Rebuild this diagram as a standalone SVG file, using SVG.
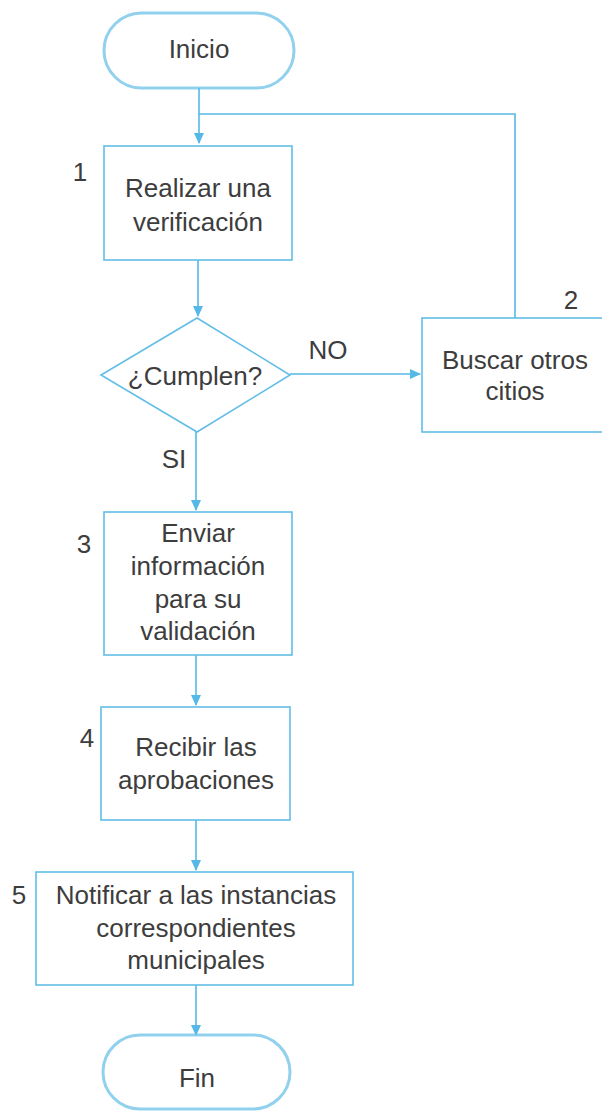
<svg xmlns="http://www.w3.org/2000/svg" width="602" height="1112" viewBox="0 0 602 1112">
<defs>
<marker id="arr" markerWidth="12" markerHeight="12" refX="10" refY="6" orient="auto" markerUnits="userSpaceOnUse">
<path d="M0,1 L11,6 L0,11 Z" fill="#55b8e6"/>
</marker>
<style>
.shape{fill:#ffffff;stroke:#62bde6;stroke-width:1.6;}
.term{fill:#ffffff;stroke:#62bde6;stroke-width:3;stroke-opacity:0.7;}
.edge{fill:none;stroke:#55b8e6;stroke-width:1.6;}
text{font-family:"Liberation Sans",Arial,sans-serif;font-size:26px;fill:#3d3d3d;}
.c{text-anchor:middle;}
</style>
</defs>
<rect width="602" height="1112" fill="#ffffff"/>
<g id="connectors">
<path class="edge" d="M199,88 L199,143" marker-end="url(#arr)"/>
<path class="edge" d="M199,114 L515,114 L515,318"/>
<path class="edge" d="M198,260 L198,316" marker-end="url(#arr)"/>
<path class="edge" d="M290,374 L420,374" marker-end="url(#arr)"/>
<path class="edge" d="M196,432 L196,510" marker-end="url(#arr)"/>
<path class="edge" d="M196,655 L196,705" marker-end="url(#arr)"/>
<path class="edge" d="M196,820 L196,870" marker-end="url(#arr)"/>
<path class="edge" d="M196,985 L196,1035" marker-end="url(#arr)"/>
<text x="328" y="359" class="c">NO</text>
<text x="174" y="468" class="c">SI</text>
</g>
<g id="inicio">
<rect class="term" x="104" y="13" width="190" height="75" rx="37.5"/>
<text x="199" y="58" class="c">Inicio</text>
</g>
<g id="n1">
<rect class="shape" x="104" y="146" width="188" height="114"/>
<text x="80" y="181" class="c">1</text>
<text x="198" y="197" class="c">Realizar una</text>
<text x="198" y="231" class="c">verificación</text>
</g>
<g id="decision">
<polygon class="shape" points="197,318 290,375 197,432 101,375"/>
<text x="195" y="385" class="c">¿Cumplen?</text>
</g>
<g id="n2">
<rect class="shape" x="422" y="318" width="185" height="114"/>
<text x="571" y="309" class="c">2</text>
<text x="515" y="369" class="c">Buscar otros</text>
<text x="515" y="400" class="c">citios</text>
</g>
<g id="n3">
<rect class="shape" x="104" y="512" width="188" height="143"/>
<text x="84" y="553" class="c">3</text>
<text x="198" y="542" class="c">Enviar</text>
<text x="198" y="575" class="c">información</text>
<text x="198" y="608" class="c">para su</text>
<text x="198" y="640" class="c">validación</text>
</g>
<g id="n4">
<rect class="shape" x="101" y="707" width="189" height="113"/>
<text x="87" y="747" class="c">4</text>
<text x="196" y="756" class="c">Recibir las</text>
<text x="196" y="789" class="c">aprobaciones</text>
</g>
<g id="n5">
<rect class="shape" x="36" y="872" width="317" height="113"/>
<text x="19" y="904" class="c">5</text>
<text x="196" y="904" class="c">Notificar a las instancias</text>
<text x="196" y="937" class="c">correspondientes</text>
<text x="196" y="969" class="c">municipales</text>
</g>
<g id="fin">
<rect class="term" x="103" y="1035" width="187" height="74" rx="37"/>
<text x="197" y="1087" class="c">Fin</text>
</g>
</svg>
